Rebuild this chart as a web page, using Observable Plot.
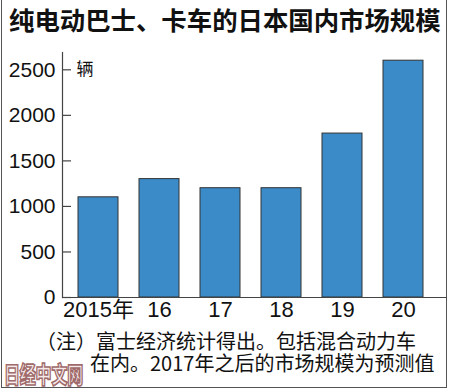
<!DOCTYPE html>
<html>
<head>
<meta charset="utf-8">
<script src="https://cdn.jsdelivr.net/npm/d3@7"></script>
<script src="https://cdn.jsdelivr.net/npm/@observablehq/plot@0.6"></script>
<style>
  html, body { margin: 0; padding: 0; background: #fff; }
  #wrap { position: relative; width: 450px; height: 390px; overflow: hidden; background: #fff; }
  #frame { position: absolute; left: 1px; top: 0; width: 444px; height: 387px;
           border-left: 1.5px solid #555; border-right: 1.5px solid #555; border-bottom: 1.5px solid #555; }
  #title { position: absolute; left: 9px; top: 3px; font: bold 25.4px "Noto Sans CJK SC", sans-serif;
           line-height: 32px; white-space: nowrap; color: #111; }
  #chart { position: absolute; left: 0; top: 40px; }
  #note { position: absolute; left: 36px; top: 330px; font: 20px "Noto Sans CJK SC", sans-serif;
          line-height: 22px; white-space: nowrap; color: #111; }
  #note2 { margin-left: 54px; }
  #wm { position: absolute; left: 4px; top: 361px; font: 900 16px "Noto Sans CJK SC", sans-serif; line-height: 18px;
        color: #f5eaea; -webkit-text-stroke: 1.2px #a06a6a; white-space: nowrap; letter-spacing: -0.2px;
        transform: scaleY(1.4); transform-origin: left top; }
</style>
</head>
<body>
<div id="wrap">
  <div id="frame"></div>
  <div id="title"></div>
  <div id="chart"></div>
  <div id="note"><span id="note1"></span><br><span id="note2"></span></div>
  <div id="wm"></div>
</div>
<script>
const title = "纯电动巴士、卡车的日本国内市场规模";
const categories = ["2015年", "16", "17", "18", "19", "20"];
const values = [1100, 1300, 1200, 1200, 1800, 2600];
const yTicks = [0, 500, 1000, 1500, 2000, 2500];
const unitLabel = "辆";
const unitAt = 2500;
const note1 = "（注）富士经济统计得出。包括混合动力车";
const note2 = "在内。2017年之后的市场规模为预测值";
const watermark = "日经中文网";

document.getElementById("title").textContent = title;
document.getElementById("note1").textContent = note1;
document.getElementById("note2").textContent = note2;
document.getElementById("wm").textContent = watermark;

const data = categories.map((c, i) => ({cat: c, value: values[i]}));

const chart = Plot.plot({
  width: 450,
  height: 290,
  marginLeft: 62,
  marginRight: 3,
  marginTop: 12,
  marginBottom: 33,
  style: {fontFamily: "'Liberation Sans', 'Noto Sans CJK SC', sans-serif", color: "#111", background: "transparent"},
  x: {domain: categories, range: [62, 439], paddingInner: 0.344, paddingOuter: 0.262, label: null},
  y: {domain: [0, 2690], label: null},
  marks: [
    Plot.barY(data, {x: "cat", y: "value", fill: "#3a8bc8", stroke: "#333", strokeWidth: 1}),
    Plot.frame({anchor: "left", stroke: "#444", strokeWidth: 1.2}),
    Plot.ruleY([0], {stroke: "#444", strokeWidth: 1.2}),
    Plot.tickY(yTicks, {y: d => d, stroke: "#444", strokeWidth: 1.2, insetRight: 376}),
    Plot.axisY({ticks: yTicks, tickSize: 0, tickPadding: 7, fontSize: 21, tickFormat: d => String(d), label: null}),
    Plot.axisX({tickSize: 0, tickPadding: 4, fontSize: 22, label: null}),
    Plot.text([unitLabel], {text: d => d, y: () => unitAt, frameAnchor: "left", dx: 14, textAnchor: "start", fontSize: 17, fontFamily: "'Noto Sans CJK SC', sans-serif"})
  ]
});
document.getElementById("chart").appendChild(chart);
</script>
</body>
</html>
